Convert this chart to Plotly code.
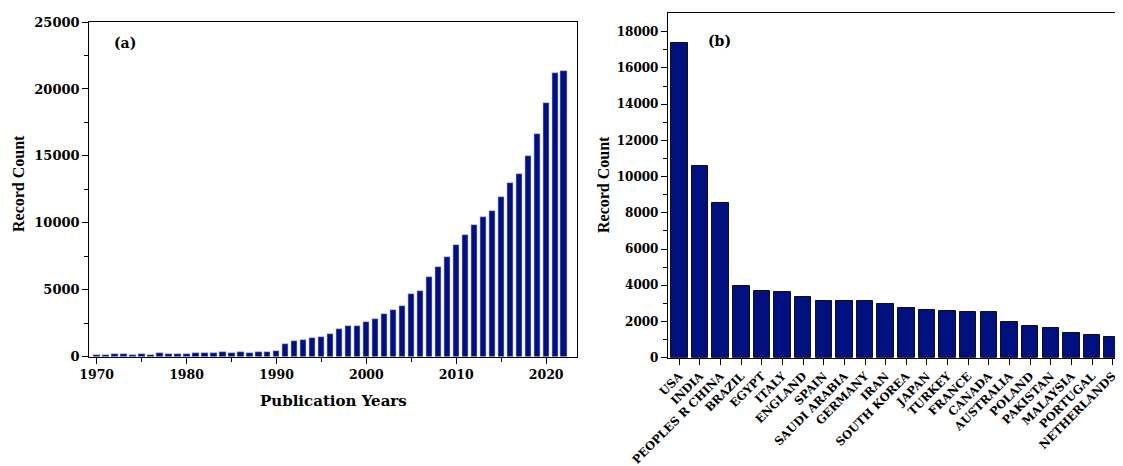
import plotly.graph_objects as go

# ---- data ----
years = list(range(1970, 2023))
year_counts = [100, 125, 175, 175, 150, 175, 150, 250, 200, 225,
               200, 250, 300, 300, 325, 275, 325, 300, 375, 375,
               450, 975, 1150, 1250, 1375, 1475, 1700, 2100, 2275, 2300,
               2600, 2800, 3200, 3460, 3775, 4660, 4900, 5940, 6675, 7460,
               8325, 9100, 9825, 10425, 10900, 11925, 13000, 13650, 15025, 16625,
               18925, 21200, 21375]

countries = ["USA", "INDIA", "PEOPLES R CHINA", "BRAZIL", "EGYPT", "ITALY", "ENGLAND",
             "SPAIN", "SAUDI ARABIA", "GERMANY", "IRAN", "SOUTH KOREA", "JAPAN", "TURKEY",
             "FRANCE", "CANADA", "AUSTRALIA", "POLAND", "PAKISTAN", "MALAYSIA",
             "PORTUGAL", "NETHERLANDS"]
country_counts = [17400, 10600, 8560, 3975, 3663, 3608, 3350, 3147, 3147, 3129, 2945,
                  2761, 2614, 2577, 2540, 2522, 1988, 1767, 1638, 1344, 1233, 1123]

a_xticks = [1970, 1980, 1990, 2000, 2010, 2020]
a_yticks = [0, 5000, 10000, 15000, 20000, 25000]
b_yticks = [0, 2000, 4000, 6000, 8000, 10000, 12000, 14000, 16000, 18000]

# the page body adds an 8 px offset; figure fills the remaining viewport
OFF = 8
W, H = 1123 - OFF, 466 - OFF
BAR = "#00107F"
TFONT = "DejaVu Serif"
SFONT = "Liberation Serif"

def px_x(p):
    return (p - OFF) / W

def px_y(p):
    return 1 - (p - OFF) / H

fig = go.Figure()
fig.add_trace(go.Bar(x=years, y=year_counts, width=0.74,
                     marker=dict(color=BAR, line=dict(color="#b8bce6", width=0.6)),
                     xaxis="x", yaxis="y", showlegend=False))
fig.add_trace(go.Bar(x=countries, y=country_counts, width=0.8,
                     marker=dict(color=BAR, line=dict(color="#111111", width=1)),
                     xaxis="x2", yaxis="y2", showlegend=False))

def tf(size):
    return dict(family=TFONT, size=size, color="black", weight="bold")

common = dict(ticks="outside", ticklen=6, tickwidth=1.2, tickcolor="black",
              showline=True, linecolor="black", linewidth=1.3,
              showgrid=False, zeroline=False, automargin=False)

fig.update_layout(
    width=W, height=H,
    margin=dict(l=0, r=0, t=0, b=0, pad=0),
    paper_bgcolor="white", plot_bgcolor="white",
    font=dict(family=TFONT, color="black"),
    bargap=0,
    xaxis=dict(domain=[px_x(89.3), px_x(576.7)], anchor="y",
               range=[1969.18, 2023.4], tickmode="array",
               tickvals=a_xticks, ticktext=[str(v) for v in a_xticks],
               minor=dict(tickvals=[1975, 1985, 1995, 2005, 2015], ticks="outside",
                          ticklen=4, tickwidth=1, tickcolor="black"),
               mirror=True, tickfont=tf(12.5), **common),
    yaxis=dict(domain=[px_y(356.7), px_y(22)], anchor="x",
               range=[0, 25000], tickmode="array",
               tickvals=a_yticks, ticktext=[str(v) for v in a_yticks],
               minor=dict(tickvals=[2500, 7500, 12500, 17500, 22500], ticks="outside",
                          ticklen=4, tickwidth=1, tickcolor="black", showgrid=False),
               mirror=True, tickfont=tf(13), **common),
    xaxis2=dict(domain=[px_x(668), 1.0], anchor="y2",
                range=[-0.55, 21.5], type="category", tickangle=-45,
                mirror=True, tickfont=tf(11.5), **common),
    yaxis2=dict(domain=[px_y(357.7), px_y(13)], anchor="x2",
                range=[0, 19030], tickmode="array",
                tickvals=b_yticks, ticktext=[str(v) for v in b_yticks],
                minor=dict(tickvals=[1000, 3000, 5000, 7000, 9000, 11000, 13000,
                                     15000, 17000], ticks="outside",
                           ticklen=4, tickwidth=1, tickcolor="black", showgrid=False),
                mirror=False, tickfont=tf(12), **common),
    annotations=[
        dict(text="(a)", x=px_x(112), y=px_y(43), xref="paper", yref="paper",
             xanchor="left", yanchor="middle", showarrow=False,
             font=dict(family=TFONT, size=14, color="black", weight="bold")),
        dict(text="(b)", x=px_x(706), y=px_y(41), xref="paper", yref="paper",
             xanchor="left", yanchor="middle", showarrow=False,
             font=dict(family=TFONT, size=14, color="black", weight="bold")),
        dict(text="Record Count", x=px_x(18), y=px_y(184), xref="paper", yref="paper",
             xanchor="center", yanchor="middle", textangle=-90, showarrow=False,
             font=dict(family=SFONT, size=16, color="black", weight="bold")),
        dict(text="Record Count", x=px_x(604), y=px_y(185), xref="paper", yref="paper",
             xanchor="center", yanchor="middle", textangle=-90, showarrow=False,
             font=dict(family=SFONT, size=16, color="black", weight="bold")),
        dict(text="Publication Years", x=px_x(333), y=px_y(401), xref="paper", yref="paper",
             xanchor="center", yanchor="middle", showarrow=False,
             font=dict(family=TFONT, size=15, color="black", weight="bold")),
    ],
)

fig.write_html("out.html")
